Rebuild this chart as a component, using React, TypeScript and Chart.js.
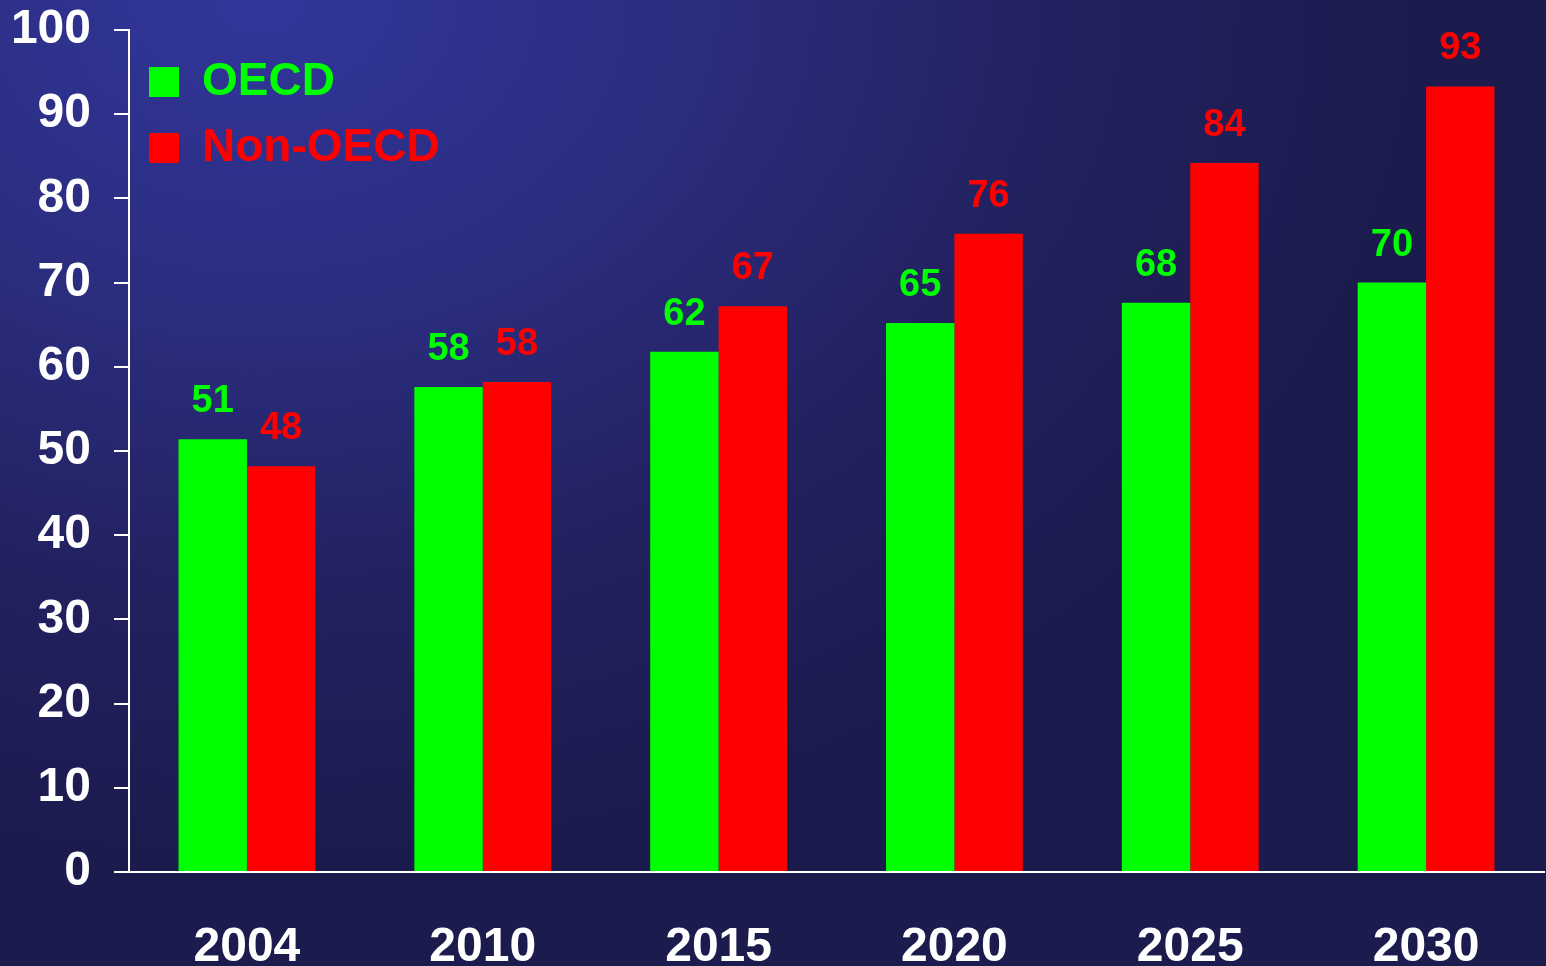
import React, { useEffect, useRef } from "react";
import { Chart, registerables } from "chart.js";

Chart.register(...registerables);

const years = ["2004", "2010", "2015", "2020", "2025", "2030"];
const oecdValues = [51.4, 57.6, 61.8, 65.2, 67.6, 70.0];
const nonOecdValues = [48.2, 58.2, 67.2, 75.8, 84.2, 93.3];
const yTicks = [0, 10, 20, 30, 40, 50, 60, 70, 80, 90, 100];

const GREEN = "#00ff00";
const RED = "#ff0000";
const FONT = "'Liberation Sans', Arial, Helvetica, sans-serif";

const valueLabels = {
  id: "valueLabels",
  afterDatasetsDraw(chart: any) {
    const ctx = chart.ctx;
    ctx.save();
    ctx.font = `bold 38px ${FONT}`;
    ctx.textAlign = "center";
    ctx.textBaseline = "alphabetic";
    chart.data.datasets.forEach((ds: any, i: number) => {
      const meta = chart.getDatasetMeta(i);
      ctx.fillStyle = ds.backgroundColor;
      meta.data.forEach((bar: any, j: number) => {
        ctx.fillText(String(Math.round(ds.data[j])), bar.x, bar.y - 27);
      });
    });
    ctx.restore();
  },
};

export default function App() {
  const ref = useRef<HTMLCanvasElement | null>(null);

  useEffect(() => {
    if (!ref.current) return;
    const chart = new Chart(ref.current, {
      type: "bar",
      data: {
        labels: years,
        datasets: [
          {
            label: "OECD",
            data: oecdValues,
            backgroundColor: GREEN,
            borderWidth: 0,
            categoryPercentage: 0.58,
            barPercentage: 1,
          },
          {
            label: "Non-OECD",
            data: nonOecdValues,
            backgroundColor: RED,
            borderWidth: 0,
            categoryPercentage: 0.58,
            barPercentage: 1,
          },
        ],
      },
      options: {
        responsive: false,
        animation: false,
        events: [],
        layout: { padding: { top: 30, right: 2, left: 0, bottom: 0 } },
        scales: {
          x: {
            afterFit(scale: any) {
              scale.height = 94;
              scale.paddingLeft = 0;
              scale.paddingRight = 0;
            },
            grid: { drawOnChartArea: false, drawTicks: false },
            border: { display: true, color: "#ffffff", width: 2 },
            ticks: {
              color: "#ffffff",
              font: { family: FONT, size: 48, weight: "bold" },
              padding: 47,
              maxRotation: 0,
            },
          },
          y: {
            min: 0,
            max: 100,
            afterFit(scale: any) {
              scale.width = 129;
              scale.paddingTop = 0;
              scale.paddingBottom = 0;
            },
            afterBuildTicks(scale: any) {
              scale.ticks = yTicks.map((v) => ({ value: v }));
            },
            grid: {
              drawOnChartArea: false,
              drawTicks: true,
              tickLength: 15,
              color: "#ffffff",
              lineWidth: 2,
            },
            border: { display: true, color: "#ffffff", width: 2 },
            ticks: {
              color: "#ffffff",
              font: { family: FONT, size: 48, weight: "bold" },
              padding: 23,
            },
          },
        },
        plugins: {
          tooltip: { enabled: false },
          legend: {
            position: "chartArea" as any,
            align: "start",
            title: {
              display: true,
              text: "",
              font: { size: 1, lineHeight: 1 },
              padding: { top: 19, bottom: 19 },
            },
            labels: {
              boxWidth: 30,
              boxHeight: 30,
              padding: 20,
              font: { family: FONT, size: 46, weight: "bold" },
              generateLabels(chart: any) {
                return chart.data.datasets.map((ds: any, i: number) => ({
                  text: ds.label,
                  fillStyle: ds.backgroundColor,
                  strokeStyle: ds.backgroundColor,
                  lineWidth: 0,
                  fontColor: ds.backgroundColor,
                  hidden: false,
                  datasetIndex: i,
                }));
              },
            },
          },
        },
      },
      plugins: [valueLabels],
    });
    return () => chart.destroy();
  }, []);

  return (
    <div
      style={{
        position: "fixed",
        left: 0,
        top: 0,
        width: 1546,
        height: 966,
        overflow: "hidden",
        background:
          "radial-gradient(ellipse 1150px 850px at 260px 0px, #31369a 0%, #2a2c7c 40%, #22215f 70%, #1c1b4e 100%)",
      }}
    >
      <canvas ref={ref} width={1546} height={966} style={{ display: "block" }} />
    </div>
  );
}
